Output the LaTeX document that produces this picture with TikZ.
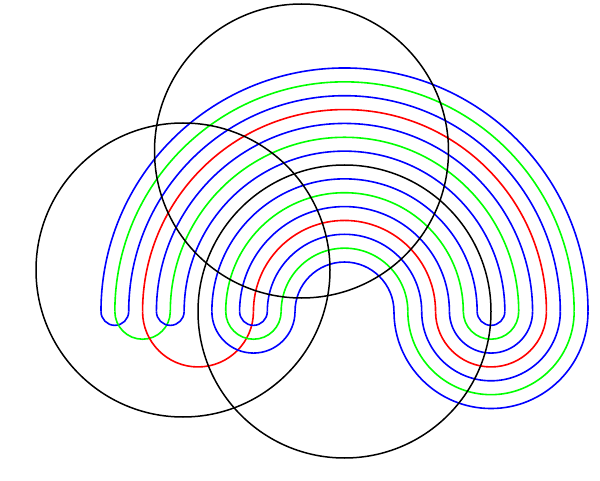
\documentclass[tikz,border=0pt]{standalone}
\begin{document}
\begin{tikzpicture}[x=1pt,y=1pt,
  strand/.style={line width=1.6pt},
  ring/.style={line width=1.5pt,draw=black}]
\useasboundingbox (0,0) rectangle (600,480);
\def\cx{344.5}
\def\cy{168.5}
\def\sp{13.86}
% upper semicircle of index k
\newcommand\myup[2]{\draw[strand,#1] ({\cx-(146.5+(#2-7)*\sp)},\cy) arc[start angle=180,end angle=0,radius={146.5+(#2-7)*\sp}];}
% lower left arc joining left positions a>b
\newcommand\myleft[3]{\draw[strand,#1] ({\cx-(146.5+(#2-7)*\sp)},\cy) arc[start angle=180,end angle=360,radius={(#2-#3)*\sp/2}];}
% lower right arc joining right positions a<b
\newcommand\myright[3]{\draw[strand,#1] ({\cx+(146.5+(#2-7)*\sp)},\cy) arc[start angle=180,end angle=360,radius={(#3-#2)*\sp/2}];}
% upper arcs
\myup{blue}{0}\myup{green}{1}\myup{blue}{2}\myup{red}{3}\myup{blue}{4}\myup{green}{5}\myup{blue}{6}
\myup{blue}{8}\myup{green}{9}\myup{blue}{10}\myup{red}{11}\myup{blue}{12}\myup{green}{13}\myup{blue}{14}
% right lower arcs
\myright{blue}{6}{8}\myright{green}{5}{9}\myright{blue}{4}{10}\myright{red}{3}{11}
\myright{blue}{2}{12}\myright{green}{1}{13}\myright{blue}{0}{14}
% left lower arcs
\myleft{blue}{14}{12}\myleft{green}{13}{9}\myleft{red}{11}{3}\myleft{blue}{10}{8}
\myleft{blue}{6}{0}\myleft{green}{5}{1}\myleft{blue}{4}{2}
% circles
\coordinate (cbottom) at (\cx,\cy);
\coordinate (ctop) at (301.5,329);
\coordinate (cleft) at (183,210);
\draw[ring] (ctop) circle[radius=147];
\draw[ring] (cleft) circle[radius=147];
\draw[ring] (cbottom) circle[radius=146.5];
\end{tikzpicture}
\end{document}
